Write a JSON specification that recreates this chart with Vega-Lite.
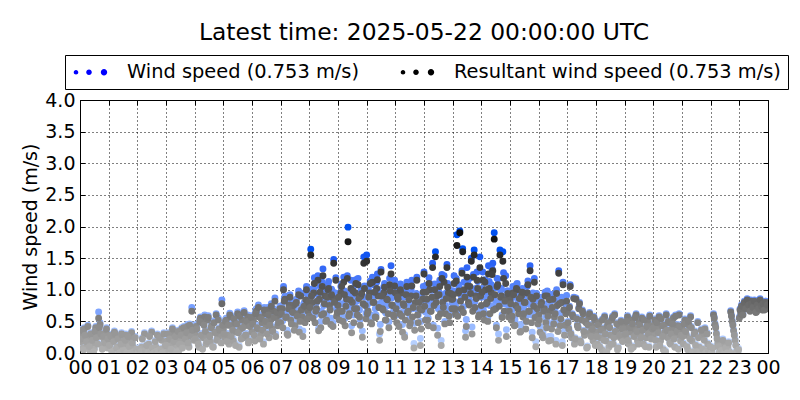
{
"$schema": "https://vega.github.io/schema/vega-lite/v6.json",
"width": 688, "height": 253,
"autosize": "none",
"padding": {"left": 80, "top": 100, "right": 32, "bottom": 47},
"background": "white",
"title": {"text": "Latest time: 2025-05-22 00:00:00 UTC", "font": "DejaVu Sans", "fontSize": 23.4, "fontWeight": "normal", "color": "black", "anchor": "middle", "frame": "group", "offset": -9, "baseline": "alphabetic"},
"config": {
 "view": {"stroke": "black", "strokeWidth": 1},
 "axis": {"labelFont": "DejaVu Sans", "labelFontSize": 19, "labelColor": "black", "titleFont": "DejaVu Sans", "titleFontSize": 19, "titleFontWeight": "normal", "titleColor": "black", "tickColor": "black", "gridColor": "black", "gridDash": [1, 3], "gridOpacity": 1, "gridWidth": 1, "domain": false}
},
"data": {"values": [
{"t":0,"w":0.32,"r":0.30},{"t":0.05,"w":0.20,"r":0.18},{"t":0.1,"w":0.10,"r":0.08},{"t":0.15,"w":0.40,"r":0.38},{"t":0.2,"w":0.27,"r":0.25},{"t":0.25,"w":0.14,"r":0.12},{"t":0.3,"w":0.24,"r":0.22},{"t":0.35,"w":0.05,"r":0.03},{"t":0.4,"w":0.30,"r":0.28},{"t":0.45,"w":0.17,"r":0.15},{"t":0.5,"w":0.08,"r":0.06},{"t":0.55,"w":0.42,"r":0.40},{"t":0.6,"w":0.35,"r":0.32},{"t":0.65,"w":0.65,"r":0.55},{"t":0.7,"w":0.48,"r":0.45},{"t":0.75,"w":0.28,"r":0.26},{"t":0.8,"w":0.14,"r":0.12},{"t":0.85,"w":0.22,"r":0.20},{"t":0.9,"w":0.35,"r":0.33},{"t":0.95,"w":0.10,"r":0.08},
{"t":1,"w":0.30,"r":0.28},{"t":1.05,"w":0.16,"r":0.14},{"t":1.1,"w":0.06,"r":0.04},{"t":1.15,"w":0.22,"r":0.20},{"t":1.2,"w":0.35,"r":0.33},{"t":1.25,"w":0.26,"r":0.24},{"t":1.3,"w":0.11,"r":0.09},{"t":1.35,"w":0.01,"r":0.00},{"t":1.4,"w":0.05,"r":0.04},{"t":1.45,"w":0.32,"r":0.30},{"t":1.5,"w":0.20,"r":0.18},{"t":1.55,"w":0.10,"r":0.08},{"t":1.6,"w":0.30,"r":0.28},{"t":1.65,"w":0.16,"r":0.14},{"t":1.7,"w":0.04,"r":0.03},{"t":1.75,"w":0.26,"r":0.24},{"t":1.8,"w":0.34,"r":0.32},{"t":1.85,"w":0.11,"r":0.09},{"t":1.9,"w":0.02,"r":0.01},{"t":1.95,"w":0.01,"r":0.00},
{"t":2,"w":0.02,"r":0.01},{"t":2.05,"w":0.01,"r":0.00},{"t":2.1,"w":0.05,"r":0.04},{"t":2.15,"w":0.11,"r":0.09},{"t":2.2,"w":0.01,"r":0.00},{"t":2.25,"w":0.32,"r":0.30},{"t":2.3,"w":0.03,"r":0.02},{"t":2.35,"w":0.01,"r":0.00},{"t":2.4,"w":0.16,"r":0.14},{"t":2.45,"w":0.05,"r":0.04},{"t":2.5,"w":0.35,"r":0.33},{"t":2.55,"w":0.01,"r":0.00},{"t":2.6,"w":0.03,"r":0.02},{"t":2.65,"w":0.11,"r":0.09},{"t":2.7,"w":0.30,"r":0.28},{"t":2.75,"w":0.05,"r":0.04},{"t":2.8,"w":0.01,"r":0.00},{"t":2.85,"w":0.22,"r":0.20},{"t":2.9,"w":0.03,"r":0.02},{"t":2.95,"w":0.10,"r":0.08},
{"t":3,"w":0.05,"r":0.04},{"t":3.05,"w":0.21,"r":0.19},{"t":3.1,"w":0.11,"r":0.09},{"t":3.15,"w":0.31,"r":0.29},{"t":3.2,"w":0.01,"r":0.00},{"t":3.25,"w":0.16,"r":0.14},{"t":3.3,"w":0.35,"r":0.33},{"t":3.35,"w":0.26,"r":0.24},{"t":3.4,"w":0.11,"r":0.09},{"t":3.45,"w":0.05,"r":0.04},{"t":3.5,"w":0.21,"r":0.19},{"t":3.55,"w":0.40,"r":0.38},{"t":3.6,"w":0.31,"r":0.29},{"t":3.65,"w":0.16,"r":0.14},{"t":3.7,"w":0.26,"r":0.24},{"t":3.75,"w":0.45,"r":0.42},{"t":3.8,"w":0.11,"r":0.09},{"t":3.85,"w":0.35,"r":0.33},{"t":3.9,"w":0.72,"r":0.66},{"t":3.95,"w":0.31,"r":0.29},
{"t":4,"w":0.32,"r":0.30},{"t":4.05,"w":0.45,"r":0.42},{"t":4.1,"w":0.20,"r":0.18},{"t":4.15,"w":0.11,"r":0.09},{"t":4.2,"w":0.57,"r":0.55},{"t":4.25,"w":0.50,"r":0.48},{"t":4.3,"w":0.26,"r":0.24},{"t":4.35,"w":0.60,"r":0.57},{"t":4.4,"w":0.16,"r":0.14},{"t":4.45,"w":0.55,"r":0.52},{"t":4.5,"w":0.30,"r":0.28},{"t":4.55,"w":0.20,"r":0.18},{"t":4.6,"w":0.46,"r":0.43},{"t":4.65,"w":0.11,"r":0.09},{"t":4.7,"w":0.35,"r":0.33},{"t":4.75,"w":0.62,"r":0.60},{"t":4.8,"w":0.26,"r":0.24},{"t":4.85,"w":0.40,"r":0.38},{"t":4.9,"w":0.30,"r":0.28},{"t":4.95,"w":0.84,"r":0.78},
{"t":5,"w":0.41,"r":0.38},{"t":5.05,"w":0.27,"r":0.24},{"t":5.1,"w":0.55,"r":0.52},{"t":5.15,"w":0.31,"r":0.28},{"t":5.2,"w":0.17,"r":0.14},{"t":5.25,"w":0.60,"r":0.57},{"t":5.3,"w":0.46,"r":0.43},{"t":5.35,"w":0.22,"r":0.19},{"t":5.4,"w":0.51,"r":0.48},{"t":5.45,"w":0.36,"r":0.33},{"t":5.5,"w":0.65,"r":0.62},{"t":5.55,"w":0.12,"r":0.09},{"t":5.6,"w":0.41,"r":0.38},{"t":5.65,"w":0.55,"r":0.52},{"t":5.7,"w":0.27,"r":0.24},{"t":5.75,"w":0.46,"r":0.43},{"t":5.8,"w":0.31,"r":0.28},{"t":5.85,"w":0.60,"r":0.57},{"t":5.9,"w":0.22,"r":0.19},{"t":5.95,"w":0.48,"r":0.45},
{"t":6,"w":0.37,"r":0.33},{"t":6.05,"w":0.56,"r":0.52},{"t":6.1,"w":0.23,"r":0.19},{"t":6.15,"w":0.70,"r":0.66},{"t":6.2,"w":0.42,"r":0.38},{"t":6.25,"w":0.61,"r":0.57},{"t":6.3,"w":0.32,"r":0.28},{"t":6.35,"w":0.52,"r":0.48},{"t":6.4,"w":0.18,"r":0.14},{"t":6.45,"w":0.66,"r":0.62},{"t":6.5,"w":0.47,"r":0.43},{"t":6.55,"w":0.72,"r":0.68},{"t":6.6,"w":0.28,"r":0.24},{"t":6.65,"w":0.56,"r":0.52},{"t":6.7,"w":0.42,"r":0.38},{"t":6.75,"w":0.70,"r":0.66},{"t":6.8,"w":0.87,"r":0.82},{"t":6.85,"w":0.61,"r":0.57},{"t":6.9,"w":0.47,"r":0.43},{"t":6.95,"w":0.64,"r":0.60},
{"t":7,"w":0.53,"r":0.48},{"t":7.05,"w":0.75,"r":0.70},{"t":7.1,"w":1.05,"r":1.00},{"t":7.15,"w":0.90,"r":0.85},{"t":7.2,"w":0.62,"r":0.57},{"t":7.25,"w":0.33,"r":0.28},{"t":7.3,"w":0.81,"r":0.76},{"t":7.35,"w":0.57,"r":0.52},{"t":7.4,"w":0.71,"r":0.66},{"t":7.45,"w":0.80,"r":0.75},{"t":7.5,"w":0.48,"r":0.43},{"t":7.55,"w":0.85,"r":0.80},{"t":7.6,"w":0.67,"r":0.62},{"t":7.65,"w":0.38,"r":0.33},{"t":7.7,"w":0.95,"r":0.90},{"t":7.75,"w":0.62,"r":0.57},{"t":7.8,"w":0.77,"r":0.72},{"t":7.85,"w":0.53,"r":0.48},{"t":7.9,"w":1.05,"r":1.00},{"t":7.95,"w":0.71,"r":0.66},
{"t":8,"w":0.65,"r":0.58},{"t":8.05,"w":1.64,"r":1.55},{"t":8.1,"w":0.90,"r":0.80},{"t":8.15,"w":1.02,"r":0.95},{"t":8.2,"w":0.60,"r":0.48},{"t":8.25,"w":0.80,"r":0.70},{"t":8.3,"w":1.22,"r":1.15},{"t":8.35,"w":0.95,"r":0.85},{"t":8.4,"w":0.50,"r":0.40},{"t":8.45,"w":1.12,"r":1.05},{"t":8.5,"w":0.75,"r":0.62},{"t":8.55,"w":0.98,"r":0.90},{"t":8.6,"w":0.62,"r":0.52},{"t":8.65,"w":1.08,"r":1.00},{"t":8.7,"w":0.85,"r":0.75},{"t":8.75,"w":0.55,"r":0.45},{"t":8.8,"w":0.98,"r":0.88},{"t":8.85,"w":1.48,"r":1.42},{"t":8.9,"w":0.95,"r":0.85},{"t":8.95,"w":0.70,"r":0.58},
{"t":9,"w":0.85,"r":0.75},{"t":9.05,"w":0.62,"r":0.52},{"t":9.1,"w":1.05,"r":0.95},{"t":9.15,"w":0.78,"r":0.66},{"t":9.2,"w":1.20,"r":1.12},{"t":9.25,"w":0.55,"r":0.43},{"t":9.3,"w":0.95,"r":0.85},{"t":9.35,"w":1.99,"r":1.76},{"t":9.4,"w":0.75,"r":0.62},{"t":9.45,"w":1.15,"r":1.02},{"t":9.5,"w":0.90,"r":0.80},{"t":9.55,"w":0.60,"r":0.48},{"t":9.6,"w":1.08,"r":0.95},{"t":9.65,"w":0.82,"r":0.70},{"t":9.7,"w":1.18,"r":1.08},{"t":9.75,"w":0.68,"r":0.57},{"t":9.8,"w":1.00,"r":0.90},{"t":9.85,"w":0.35,"r":0.25},{"t":9.9,"w":1.52,"r":1.42},{"t":9.95,"w":0.88,"r":0.75},
{"t":10,"w":1.55,"r":1.45},{"t":10.05,"w":0.78,"r":0.66},{"t":10.1,"w":1.08,"r":0.95},{"t":10.15,"w":0.60,"r":0.48},{"t":10.2,"w":1.20,"r":1.12},{"t":10.25,"w":0.92,"r":0.80},{"t":10.3,"w":0.70,"r":0.57},{"t":10.35,"w":1.12,"r":1.02},{"t":10.4,"w":1.00,"r":0.90},{"t":10.45,"w":0.30,"r":0.20},{"t":10.5,"w":1.32,"r":1.28},{"t":10.55,"w":0.82,"r":0.70},{"t":10.6,"w":1.05,"r":0.95},{"t":10.65,"w":0.65,"r":0.52},{"t":10.7,"w":0.95,"r":0.85},{"t":10.75,"w":0.75,"r":0.62},{"t":10.8,"w":1.18,"r":1.08},{"t":10.85,"w":1.38,"r":1.25},{"t":10.9,"w":0.88,"r":0.75},{"t":10.95,"w":0.68,"r":0.57},
{"t":11,"w":1.05,"r":0.95},{"t":11.05,"w":0.60,"r":0.48},{"t":11.1,"w":0.95,"r":0.85},{"t":11.15,"w":0.75,"r":0.62},{"t":11.2,"w":1.05,"r":0.95},{"t":11.25,"w":0.45,"r":0.33},{"t":11.3,"w":0.88,"r":0.75},{"t":11.35,"w":0.65,"r":0.52},{"t":11.4,"w":1.12,"r":1.05},{"t":11.45,"w":0.78,"r":0.66},{"t":11.5,"w":0.55,"r":0.43},{"t":11.55,"w":1.00,"r":0.90},{"t":11.6,"w":0.70,"r":0.57},{"t":11.65,"w":0.15,"r":0.08},{"t":11.7,"w":0.92,"r":0.80},{"t":11.75,"w":1.20,"r":1.15},{"t":11.8,"w":0.60,"r":0.48},{"t":11.85,"w":0.82,"r":0.70},{"t":11.9,"w":0.50,"r":0.38},{"t":11.95,"w":0.95,"r":0.85},
{"t":12,"w":1.28,"r":1.25},{"t":12.05,"w":0.65,"r":0.52},{"t":12.1,"w":0.98,"r":0.85},{"t":12.15,"w":0.55,"r":0.43},{"t":12.2,"w":1.10,"r":1.00},{"t":12.25,"w":0.80,"r":0.66},{"t":12.3,"w":1.42,"r":1.35},{"t":12.35,"w":0.88,"r":0.75},{"t":12.4,"w":1.60,"r":1.52},{"t":12.45,"w":1.00,"r":0.90},{"t":12.5,"w":0.70,"r":0.57},{"t":12.55,"w":1.15,"r":1.05},{"t":12.6,"w":0.20,"r":0.12},{"t":12.65,"w":0.92,"r":0.80},{"t":12.7,"w":1.22,"r":1.12},{"t":12.75,"w":0.75,"r":0.62},{"t":12.8,"w":1.40,"r":1.35},{"t":12.85,"w":1.05,"r":0.95},{"t":12.9,"w":0.60,"r":0.48},{"t":12.95,"w":0.98,"r":0.85},
{"t":13,"w":0.98,"r":0.85},{"t":13.05,"w":1.22,"r":1.10},{"t":13.1,"w":0.75,"r":0.62},{"t":13.15,"w":1.87,"r":1.70},{"t":13.2,"w":1.08,"r":0.95},{"t":13.25,"w":1.93,"r":1.90},{"t":13.3,"w":0.85,"r":0.70},{"t":13.35,"w":1.65,"r":1.60},{"t":13.4,"w":1.12,"r":1.00},{"t":13.45,"w":0.35,"r":0.25},{"t":13.5,"w":1.35,"r":1.20},{"t":13.55,"w":0.92,"r":0.80},{"t":13.6,"w":1.18,"r":1.05},{"t":13.65,"w":1.50,"r":1.45},{"t":13.7,"w":0.80,"r":0.66},{"t":13.75,"w":1.63,"r":1.55},{"t":13.8,"w":1.02,"r":0.90},{"t":13.85,"w":1.28,"r":1.15},{"t":13.9,"w":0.70,"r":0.57},{"t":13.95,"w":1.52,"r":1.35},
{"t":14,"w":0.88,"r":0.75},{"t":14.05,"w":1.28,"r":1.15},{"t":14.1,"w":0.65,"r":0.52},{"t":14.15,"w":1.12,"r":1.00},{"t":14.2,"w":0.92,"r":0.80},{"t":14.25,"w":1.38,"r":1.25},{"t":14.3,"w":0.75,"r":0.62},{"t":14.35,"w":1.08,"r":0.95},{"t":14.4,"w":1.42,"r":1.30},{"t":14.45,"w":1.90,"r":1.80},{"t":14.5,"w":0.82,"r":0.70},{"t":14.55,"w":1.18,"r":1.05},{"t":14.6,"w":0.30,"r":0.20},{"t":14.65,"w":1.63,"r":1.55},{"t":14.7,"w":1.02,"r":0.90},{"t":14.75,"w":1.60,"r":1.45},{"t":14.8,"w":0.78,"r":0.66},{"t":14.85,"w":1.22,"r":1.10},{"t":14.9,"w":0.98,"r":0.85},{"t":14.95,"w":0.70,"r":0.57},
{"t":15,"w":0.95,"r":0.85},{"t":15.05,"w":0.65,"r":0.52},{"t":15.1,"w":1.05,"r":0.95},{"t":15.15,"w":0.55,"r":0.43},{"t":15.2,"w":0.88,"r":0.75},{"t":15.25,"w":1.10,"r":1.00},{"t":15.3,"w":0.75,"r":0.62},{"t":15.35,"w":0.45,"r":0.33},{"t":15.4,"w":1.00,"r":0.90},{"t":15.45,"w":0.70,"r":0.57},{"t":15.5,"w":0.92,"r":0.80},{"t":15.55,"w":0.50,"r":0.38},{"t":15.6,"w":1.05,"r":0.95},{"t":15.65,"w":0.78,"r":0.66},{"t":15.7,"w":1.38,"r":1.30},{"t":15.75,"w":0.60,"r":0.48},{"t":15.8,"w":0.95,"r":0.85},{"t":15.85,"w":1.18,"r":1.12},{"t":15.9,"w":0.18,"r":0.10},{"t":15.95,"w":0.82,"r":0.70},
{"t":16,"w":0.68,"r":0.60},{"t":16.05,"w":0.42,"r":0.33},{"t":16.1,"w":0.88,"r":0.80},{"t":16.15,"w":0.32,"r":0.24},{"t":16.2,"w":0.78,"r":0.70},{"t":16.25,"w":0.56,"r":0.48},{"t":16.3,"w":0.98,"r":0.90},{"t":16.35,"w":0.26,"r":0.19},{"t":16.4,"w":0.74,"r":0.66},{"t":16.45,"w":0.46,"r":0.38},{"t":16.5,"w":0.93,"r":0.85},{"t":16.55,"w":0.65,"r":0.57},{"t":16.6,"w":0.20,"r":0.14},{"t":16.65,"w":0.83,"r":0.75},{"t":16.7,"w":1.30,"r":1.26},{"t":16.75,"w":0.50,"r":0.43},{"t":16.8,"w":0.88,"r":0.80},{"t":16.85,"w":1.12,"r":1.08},{"t":16.9,"w":0.35,"r":0.28},{"t":16.95,"w":0.70,"r":0.62},
{"t":17,"w":0.68,"r":0.66},{"t":17.05,"w":0.40,"r":0.38},{"t":17.1,"w":1.08,"r":1.05},{"t":17.15,"w":0.26,"r":0.24},{"t":17.2,"w":0.59,"r":0.57},{"t":17.25,"w":0.16,"r":0.14},{"t":17.3,"w":0.87,"r":0.85},{"t":17.35,"w":0.45,"r":0.43},{"t":17.4,"w":0.72,"r":0.70},{"t":17.45,"w":0.21,"r":0.19},{"t":17.5,"w":0.54,"r":0.52},{"t":17.55,"w":0.64,"r":0.62},{"t":17.6,"w":0.30,"r":0.28},{"t":17.65,"w":0.50,"r":0.48},{"t":17.7,"w":0.11,"r":0.09},{"t":17.75,"w":0.59,"r":0.57},{"t":17.8,"w":0.35,"r":0.33},{"t":17.85,"w":0.45,"r":0.43},{"t":17.9,"w":0.21,"r":0.19},{"t":17.95,"w":0.54,"r":0.52},
{"t":18,"w":0.35,"r":0.33},{"t":18.05,"w":0.16,"r":0.14},{"t":18.1,"w":0.50,"r":0.48},{"t":18.15,"w":0.26,"r":0.24},{"t":18.2,"w":0.07,"r":0.05},{"t":18.25,"w":0.40,"r":0.38},{"t":18.3,"w":0.59,"r":0.57},{"t":18.35,"w":0.21,"r":0.19},{"t":18.4,"w":0.45,"r":0.43},{"t":18.45,"w":0.11,"r":0.09},{"t":18.5,"w":0.30,"r":0.28},{"t":18.55,"w":0.54,"r":0.52},{"t":18.6,"w":0.16,"r":0.14},{"t":18.65,"w":0.62,"r":0.60},{"t":18.7,"w":0.35,"r":0.33},{"t":18.75,"w":0.07,"r":0.05},{"t":18.8,"w":0.45,"r":0.43},{"t":18.85,"w":0.26,"r":0.24},{"t":18.9,"w":0.40,"r":0.38},{"t":18.95,"w":0.21,"r":0.19},
{"t":19,"w":0.45,"r":0.43},{"t":19.05,"w":0.26,"r":0.24},{"t":19.1,"w":0.59,"r":0.57},{"t":19.15,"w":0.16,"r":0.14},{"t":19.2,"w":0.35,"r":0.33},{"t":19.25,"w":0.54,"r":0.52},{"t":19.3,"w":0.11,"r":0.09},{"t":19.35,"w":0.40,"r":0.38},{"t":19.4,"w":0.62,"r":0.60},{"t":19.45,"w":0.21,"r":0.19},{"t":19.5,"w":0.50,"r":0.48},{"t":19.55,"w":0.30,"r":0.28},{"t":19.6,"w":0.57,"r":0.55},{"t":19.65,"w":0.16,"r":0.14},{"t":19.7,"w":0.40,"r":0.38},{"t":19.75,"w":0.26,"r":0.24},{"t":19.8,"w":0.52,"r":0.50},{"t":19.85,"w":0.11,"r":0.09},{"t":19.9,"w":0.35,"r":0.33},{"t":19.95,"w":0.45,"r":0.43},
{"t":20,"w":0.30,"r":0.28},{"t":20.05,"w":0.54,"r":0.52},{"t":20.1,"w":0.11,"r":0.09},{"t":20.15,"w":0.40,"r":0.38},{"t":20.2,"w":0.59,"r":0.57},{"t":20.25,"w":0.21,"r":0.19},{"t":20.3,"w":0.45,"r":0.43},{"t":20.35,"w":0.07,"r":0.05},{"t":20.4,"w":0.35,"r":0.33},{"t":20.45,"w":0.62,"r":0.60},{"t":20.5,"w":0.26,"r":0.24},{"t":20.55,"w":0.50,"r":0.48},{"t":20.6,"w":0.16,"r":0.14},{"t":20.65,"w":0.40,"r":0.38},{"t":20.7,"w":0.57,"r":0.55},{"t":20.75,"w":0.11,"r":0.09},{"t":20.8,"w":0.30,"r":0.28},{"t":20.85,"w":0.45,"r":0.43},{"t":20.9,"w":0.62,"r":0.60},{"t":20.95,"w":0.21,"r":0.19},
{"t":21,"w":0.40,"r":0.38},{"t":21.05,"w":0.16,"r":0.14},{"t":21.1,"w":0.54,"r":0.52},{"t":21.15,"w":0.30,"r":0.28},{"t":21.2,"w":0.07,"r":0.05},{"t":21.25,"w":0.45,"r":0.43},{"t":21.3,"w":0.59,"r":0.57},{"t":21.35,"w":0.21,"r":0.19},{"t":21.4,"w":0.04,"r":0.02},{"t":21.45,"w":0.35,"r":0.33},{"t":21.5,"w":0.02,"r":0.00},{"t":21.55,"w":0.50,"r":0.48},{"t":21.6,"w":0.11,"r":0.09},{"t":21.65,"w":0.03,"r":0.01},{"t":21.7,"w":0.30,"r":0.28},{"t":21.75,"w":0.02,"r":0.00},{"t":21.8,"w":0.40,"r":0.38},{"t":21.85,"w":0.04,"r":0.02},{"t":21.9,"w":0.16,"r":0.14},{"t":21.95,"w":0.02,"r":0.00},
{"t":22,"w":0.04,"r":0.02},{"t":22.05,"w":0.02,"r":0.00},{"t":22.1,"w":0.62,"r":0.60},{"t":22.15,"w":0.47,"r":0.45},{"t":22.2,"w":0.32,"r":0.30},{"t":22.25,"w":0.17,"r":0.15},{"t":22.3,"w":0.03,"r":0.01},{"t":22.35,"w":0.02,"r":0.00},{"t":22.4,"w":0.14,"r":0.12},{"t":22.45,"w":0.02,"r":0.00},{"t":22.5,"w":0.17,"r":0.15},{"t":22.55,"w":0.05,"r":0.03},{"t":22.6,"w":0.12,"r":0.10},{"t":22.65,"w":0.04,"r":0.02},{"t":22.7,"w":0.67,"r":0.65},{"t":22.75,"w":0.52,"r":0.50},{"t":22.8,"w":0.37,"r":0.35},{"t":22.85,"w":0.22,"r":0.20},{"t":22.9,"w":0.04,"r":0.02},{"t":22.95,"w":0.02,"r":0.00},
{"t":23,"w":0.57,"r":0.55},{"t":23.05,"w":0.64,"r":0.62},{"t":23.1,"w":0.72,"r":0.70},{"t":23.15,"w":0.77,"r":0.75},{"t":23.2,"w":0.80,"r":0.78},{"t":23.25,"w":0.74,"r":0.72},{"t":23.3,"w":0.82,"r":0.80},{"t":23.35,"w":0.70,"r":0.68},{"t":23.4,"w":0.84,"r":0.82},{"t":23.45,"w":0.77,"r":0.75},{"t":23.5,"w":0.72,"r":0.70},{"t":23.55,"w":0.80,"r":0.78},{"t":23.6,"w":0.67,"r":0.65},{"t":23.65,"w":0.82,"r":0.80},{"t":23.7,"w":0.74,"r":0.72},{"t":23.75,"w":0.78,"r":0.76},{"t":23.8,"w":0.70,"r":0.68},{"t":23.85,"w":0.76,"r":0.74},{"t":23.9,"w":0.82,"r":0.80},{"t":23.95,"w":0.72,"r":0.70},
{"t":0.025,"w":0.24,"r":0.22},{"t":0.075,"w":0.38,"r":0.36},{"t":0.125,"w":0.07,"r":0.05},{"t":0.175,"w":0.30,"r":0.28},{"t":0.225,"w":0.20,"r":0.18},{"t":0.275,"w":0.44,"r":0.42},{"t":0.325,"w":0.12,"r":0.10},{"t":0.375,"w":0.32,"r":0.30},{"t":0.425,"w":0.22,"r":0.20},{"t":0.475,"w":0.04,"r":0.02},{"t":0.525,"w":0.36,"r":0.34},{"t":0.575,"w":0.26,"r":0.24},{"t":0.625,"w":0.16,"r":0.14},{"t":0.675,"w":0.42,"r":0.40},{"t":0.725,"w":0.32,"r":0.30},{"t":0.775,"w":0.08,"r":0.06},{"t":0.825,"w":0.28,"r":0.26},{"t":0.875,"w":0.18,"r":0.16},{"t":0.925,"w":0.40,"r":0.38},{"t":0.975,"w":0.24,"r":0.22},
{"t":1.025,"w":0.14,"r":0.12},{"t":1.075,"w":0.28,"r":0.26},{"t":1.125,"w":0.04,"r":0.02},{"t":1.175,"w":0.20,"r":0.18},{"t":1.225,"w":0.32,"r":0.30},{"t":1.275,"w":0.10,"r":0.08},{"t":1.325,"w":0.24,"r":0.22},{"t":1.375,"w":0.01,"r":0.00},{"t":1.425,"w":0.16,"r":0.14},{"t":1.475,"w":0.30,"r":0.28},{"t":1.525,"w":0.06,"r":0.04},{"t":1.575,"w":0.22,"r":0.20},{"t":1.625,"w":0.01,"r":0.00},{"t":1.675,"w":0.28,"r":0.26},{"t":1.725,"w":0.12,"r":0.10},{"t":1.775,"w":0.01,"r":0.00},{"t":1.825,"w":0.18,"r":0.16},{"t":1.875,"w":0.04,"r":0.02},{"t":1.925,"w":0.26,"r":0.24},{"t":1.975,"w":0.08,"r":0.06},
{"t":2.025,"w":0.01,"r":0.00},{"t":2.075,"w":0.08,"r":0.06},{"t":2.125,"w":0.04,"r":0.02},{"t":2.175,"w":0.24,"r":0.22},{"t":2.225,"w":0.01,"r":0.00},{"t":2.275,"w":0.06,"r":0.04},{"t":2.325,"w":0.14,"r":0.12},{"t":2.375,"w":0.01,"r":0.00},{"t":2.425,"w":0.28,"r":0.26},{"t":2.475,"w":0.04,"r":0.02},{"t":2.525,"w":0.10,"r":0.08},{"t":2.575,"w":0.01,"r":0.00},{"t":2.625,"w":0.20,"r":0.18},{"t":2.675,"w":0.05,"r":0.03},{"t":2.725,"w":0.01,"r":0.00},{"t":2.775,"w":0.26,"r":0.24},{"t":2.825,"w":0.08,"r":0.06},{"t":2.875,"w":0.01,"r":0.00},{"t":2.925,"w":0.32,"r":0.30},{"t":2.975,"w":0.14,"r":0.12},
{"t":3.025,"w":0.14,"r":0.12},{"t":3.075,"w":0.32,"r":0.30},{"t":3.125,"w":0.24,"r":0.22},{"t":3.175,"w":0.08,"r":0.06},{"t":3.225,"w":0.40,"r":0.38},{"t":3.275,"w":0.20,"r":0.18},{"t":3.325,"w":0.28,"r":0.26},{"t":3.375,"w":0.04,"r":0.02},{"t":3.425,"w":0.36,"r":0.34},{"t":3.475,"w":0.16,"r":0.14},{"t":3.525,"w":0.30,"r":0.28},{"t":3.575,"w":0.10,"r":0.08},{"t":3.625,"w":0.42,"r":0.40},{"t":3.675,"w":0.24,"r":0.22},{"t":3.725,"w":0.34,"r":0.32},{"t":3.775,"w":0.18,"r":0.16},{"t":3.825,"w":0.46,"r":0.44},{"t":3.875,"w":0.28,"r":0.26},{"t":3.925,"w":0.38,"r":0.36},{"t":3.975,"w":0.22,"r":0.20},
{"t":4.025,"w":0.25,"r":0.22},{"t":4.075,"w":0.41,"r":0.38},{"t":4.125,"w":0.17,"r":0.14},{"t":4.175,"w":0.53,"r":0.50},{"t":4.225,"w":0.31,"r":0.28},{"t":4.275,"w":0.09,"r":0.06},{"t":4.325,"w":0.47,"r":0.44},{"t":4.375,"w":0.37,"r":0.34},{"t":4.425,"w":0.21,"r":0.18},{"t":4.475,"w":0.59,"r":0.56},{"t":4.525,"w":0.29,"r":0.26},{"t":4.575,"w":0.43,"r":0.40},{"t":4.625,"w":0.13,"r":0.10},{"t":4.675,"w":0.51,"r":0.48},{"t":4.725,"w":0.35,"r":0.32},{"t":4.775,"w":0.23,"r":0.20},{"t":4.825,"w":0.55,"r":0.52},{"t":4.875,"w":0.39,"r":0.36},{"t":4.925,"w":0.19,"r":0.16},{"t":4.975,"w":0.47,"r":0.44},
{"t":5.025,"w":0.33,"r":0.30},{"t":5.075,"w":0.53,"r":0.50},{"t":5.125,"w":0.21,"r":0.18},{"t":5.175,"w":0.47,"r":0.44},{"t":5.225,"w":0.63,"r":0.60},{"t":5.275,"w":0.29,"r":0.26},{"t":5.325,"w":0.39,"r":0.36},{"t":5.375,"w":0.57,"r":0.54},{"t":5.425,"w":0.15,"r":0.12},{"t":5.475,"w":0.49,"r":0.46},{"t":5.525,"w":0.35,"r":0.32},{"t":5.575,"w":0.61,"r":0.58},{"t":5.625,"w":0.25,"r":0.22},{"t":5.675,"w":0.43,"r":0.40},{"t":5.725,"w":0.67,"r":0.64},{"t":5.775,"w":0.31,"r":0.28},{"t":5.825,"w":0.53,"r":0.50},{"t":5.875,"w":0.19,"r":0.16},{"t":5.925,"w":0.45,"r":0.42},{"t":5.975,"w":0.59,"r":0.56},
{"t":6.025,"w":0.50,"r":0.46},{"t":6.075,"w":0.32,"r":0.28},{"t":6.125,"w":0.66,"r":0.62},{"t":6.175,"w":0.44,"r":0.40},{"t":6.225,"w":0.76,"r":0.72},{"t":6.275,"w":0.26,"r":0.22},{"t":6.325,"w":0.58,"r":0.54},{"t":6.375,"w":0.40,"r":0.36},{"t":6.425,"w":0.72,"r":0.68},{"t":6.475,"w":0.54,"r":0.50},{"t":6.525,"w":0.34,"r":0.30},{"t":6.575,"w":0.64,"r":0.60},{"t":6.625,"w":0.48,"r":0.44},{"t":6.675,"w":0.78,"r":0.74},{"t":6.725,"w":0.38,"r":0.34},{"t":6.775,"w":0.60,"r":0.56},{"t":6.825,"w":0.30,"r":0.26},{"t":6.875,"w":0.68,"r":0.64},{"t":6.925,"w":0.52,"r":0.48},{"t":6.975,"w":0.74,"r":0.70},
{"t":7.025,"w":0.68,"r":0.62},{"t":7.075,"w":0.51,"r":0.40},{"t":7.125,"w":0.86,"r":0.82},{"t":7.175,"w":0.65,"r":0.56},{"t":7.225,"w":0.36,"r":0.30},{"t":7.275,"w":0.81,"r":0.70},{"t":7.325,"w":0.92,"r":0.88},{"t":7.375,"w":0.55,"r":0.46},{"t":7.425,"w":0.70,"r":0.64},{"t":7.475,"w":0.47,"r":0.36},{"t":7.525,"w":0.82,"r":0.78},{"t":7.575,"w":0.67,"r":0.58},{"t":7.625,"w":0.98,"r":0.92},{"t":7.675,"w":0.61,"r":0.50},{"t":7.725,"w":0.72,"r":0.68},{"t":7.775,"w":0.35,"r":0.26},{"t":7.825,"w":0.80,"r":0.74},{"t":7.875,"w":0.95,"r":0.84},{"t":7.925,"w":0.58,"r":0.54},{"t":7.975,"w":0.89,"r":0.80},
{"t":8.025,"w":0.78,"r":0.72},{"t":8.075,"w":1.01,"r":0.90},{"t":8.125,"w":0.59,"r":0.55},{"t":8.175,"w":1.19,"r":1.10},{"t":8.225,"w":0.72,"r":0.66},{"t":8.275,"w":0.93,"r":0.82},{"t":8.325,"w":0.39,"r":0.35},{"t":8.375,"w":1.05,"r":0.96},{"t":8.425,"w":0.66,"r":0.60},{"t":8.475,"w":1.33,"r":1.22},{"t":8.525,"w":0.82,"r":0.78},{"t":8.575,"w":0.59,"r":0.50},{"t":8.625,"w":0.94,"r":0.88},{"t":8.675,"w":1.13,"r":1.02},{"t":8.725,"w":0.72,"r":0.68},{"t":8.775,"w":1.01,"r":0.92},{"t":8.825,"w":0.48,"r":0.42},{"t":8.875,"w":0.91,"r":0.80},{"t":8.925,"w":1.19,"r":1.15},{"t":8.975,"w":0.73,"r":0.64},
{"t":9.025,"w":0.94,"r":0.88},{"t":9.075,"w":0.77,"r":0.66},{"t":9.125,"w":1.09,"r":1.05},{"t":9.175,"w":0.59,"r":0.50},{"t":9.225,"w":0.98,"r":0.92},{"t":9.275,"w":0.85,"r":0.74},{"t":9.325,"w":1.22,"r":1.18},{"t":9.375,"w":0.67,"r":0.58},{"t":9.425,"w":0.90,"r":0.84},{"t":9.475,"w":0.43,"r":0.32},{"t":9.525,"w":1.02,"r":0.98},{"t":9.575,"w":0.79,"r":0.70},{"t":9.625,"w":1.16,"r":1.10},{"t":9.675,"w":0.71,"r":0.60},{"t":9.725,"w":0.90,"r":0.86},{"t":9.775,"w":0.53,"r":0.44},{"t":9.825,"w":1.00,"r":0.94},{"t":9.875,"w":0.89,"r":0.78},{"t":9.925,"w":1.06,"r":1.02},{"t":9.975,"w":0.63,"r":0.54},
{"t":10.025,"w":0.68,"r":0.62},{"t":10.075,"w":0.99,"r":0.88},{"t":10.125,"w":1.14,"r":1.10},{"t":10.175,"w":0.55,"r":0.46},{"t":10.225,"w":0.86,"r":0.80},{"t":10.275,"w":1.07,"r":0.96},{"t":10.325,"w":0.60,"r":0.56},{"t":10.375,"w":1.25,"r":1.16},{"t":10.425,"w":0.78,"r":0.72},{"t":10.475,"w":0.45,"r":0.34},{"t":10.525,"w":0.94,"r":0.90},{"t":10.575,"w":0.77,"r":0.68},{"t":10.625,"w":1.10,"r":1.04},{"t":10.675,"w":0.63,"r":0.52},{"t":10.725,"w":0.88,"r":0.84},{"t":10.775,"w":0.49,"r":0.40},{"t":10.825,"w":1.04,"r":0.98},{"t":10.875,"w":0.87,"r":0.76},{"t":10.925,"w":0.64,"r":0.60},{"t":10.975,"w":1.15,"r":1.06},
{"t":11.025,"w":0.76,"r":0.70},{"t":11.075,"w":0.99,"r":0.88},{"t":11.125,"w":0.46,"r":0.42},{"t":11.175,"w":1.09,"r":1.00},{"t":11.225,"w":0.64,"r":0.58},{"t":11.275,"w":0.89,"r":0.78},{"t":11.325,"w":0.29,"r":0.25},{"t":11.375,"w":1.01,"r":0.92},{"t":11.425,"w":0.70,"r":0.64},{"t":11.475,"w":0.95,"r":0.84},{"t":11.525,"w":0.52,"r":0.48},{"t":11.575,"w":1.15,"r":1.06},{"t":11.625,"w":0.78,"r":0.72},{"t":11.675,"w":0.47,"r":0.36},{"t":11.725,"w":0.94,"r":0.90},{"t":11.775,"w":0.69,"r":0.60},{"t":11.825,"w":0.86,"r":0.80},{"t":11.875,"w":0.23,"r":0.12},{"t":11.925,"w":0.72,"r":0.68},{"t":11.975,"w":1.05,"r":0.96},
{"t":12.025,"w":0.80,"r":0.74},{"t":12.075,"w":1.07,"r":0.96},{"t":12.125,"w":0.56,"r":0.52},{"t":12.175,"w":1.19,"r":1.10},{"t":12.225,"w":0.72,"r":0.66},{"t":12.275,"w":0.99,"r":0.88},{"t":12.325,"w":0.44,"r":0.40},{"t":12.375,"w":1.09,"r":1.00},{"t":12.425,"w":0.86,"r":0.80},{"t":12.475,"w":0.39,"r":0.28},{"t":12.525,"w":0.96,"r":0.92},{"t":12.575,"w":0.71,"r":0.62},{"t":12.625,"w":1.24,"r":1.18},{"t":12.675,"w":0.83,"r":0.72},{"t":12.725,"w":0.50,"r":0.46},{"t":12.775,"w":0.95,"r":0.86},{"t":12.825,"w":1.10,"r":1.04},{"t":12.875,"w":0.69,"r":0.58},{"t":12.925,"w":0.98,"r":0.94},{"t":12.975,"w":0.79,"r":0.70},
{"t":13.025,"w":0.98,"r":0.92},{"t":13.075,"w":0.81,"r":0.70},{"t":13.125,"w":1.18,"r":1.14},{"t":13.175,"w":0.67,"r":0.58},{"t":13.225,"w":1.04,"r":0.98},{"t":13.275,"w":0.93,"r":0.82},{"t":13.325,"w":1.30,"r":1.26},{"t":13.375,"w":0.73,"r":0.64},{"t":13.425,"w":0.94,"r":0.88},{"t":13.475,"w":0.53,"r":0.42},{"t":13.525,"w":1.10,"r":1.06},{"t":13.575,"w":0.85,"r":0.76},{"t":13.625,"w":1.00,"r":0.94},{"t":13.675,"w":0.41,"r":0.30},{"t":13.725,"w":1.24,"r":1.20},{"t":13.775,"w":0.81,"r":0.72},{"t":13.825,"w":0.92,"r":0.86},{"t":13.875,"w":1.13,"r":1.02},{"t":13.925,"w":0.64,"r":0.60},{"t":13.975,"w":0.99,"r":0.90},
{"t":14.025,"w":1.02,"r":0.96},{"t":14.075,"w":0.73,"r":0.62},{"t":14.125,"w":1.16,"r":1.12},{"t":14.175,"w":0.87,"r":0.78},{"t":14.225,"w":0.56,"r":0.50},{"t":14.275,"w":1.13,"r":1.02},{"t":14.325,"w":0.90,"r":0.86},{"t":14.375,"w":1.33,"r":1.24},{"t":14.425,"w":0.74,"r":0.68},{"t":14.475,"w":1.03,"r":0.92},{"t":14.525,"w":0.44,"r":0.40},{"t":14.575,"w":1.17,"r":1.08},{"t":14.625,"w":0.80,"r":0.74},{"t":14.675,"w":0.99,"r":0.88},{"t":14.725,"w":0.60,"r":0.56},{"t":14.775,"w":1.27,"r":1.18},{"t":14.825,"w":0.88,"r":0.82},{"t":14.875,"w":0.37,"r":0.26},{"t":14.925,"w":0.98,"r":0.94},{"t":14.975,"w":0.75,"r":0.66},
{"t":15.025,"w":0.84,"r":0.78},{"t":15.075,"w":0.69,"r":0.58},{"t":15.125,"w":0.96,"r":0.92},{"t":15.175,"w":0.53,"r":0.44},{"t":15.225,"w":1.08,"r":1.02},{"t":15.275,"w":0.81,"r":0.70},{"t":15.325,"w":0.90,"r":0.86},{"t":15.375,"w":0.43,"r":0.34},{"t":15.425,"w":1.02,"r":0.96},{"t":15.475,"w":0.73,"r":0.62},{"t":15.525,"w":0.84,"r":0.80},{"t":15.575,"w":0.59,"r":0.50},{"t":15.625,"w":1.14,"r":1.08},{"t":15.675,"w":0.77,"r":0.66},{"t":15.725,"w":0.92,"r":0.88},{"t":15.775,"w":0.33,"r":0.24},{"t":15.825,"w":0.80,"r":0.74},{"t":15.875,"w":0.67,"r":0.56},{"t":15.925,"w":0.94,"r":0.90},{"t":15.975,"w":0.55,"r":0.46},
{"t":16.025,"w":0.58,"r":0.52},{"t":16.075,"w":0.87,"r":0.76},{"t":16.125,"w":0.32,"r":0.28},{"t":16.175,"w":0.75,"r":0.66},{"t":16.225,"w":0.96,"r":0.90},{"t":16.275,"w":0.51,"r":0.40},{"t":16.325,"w":0.62,"r":0.58},{"t":16.375,"w":0.93,"r":0.84},{"t":16.425,"w":0.26,"r":0.20},{"t":16.475,"w":0.83,"r":0.72},{"t":16.525,"w":0.50,"r":0.46},{"t":16.575,"w":0.71,"r":0.62},{"t":16.625,"w":1.00,"r":0.94},{"t":16.675,"w":0.45,"r":0.34},{"t":16.725,"w":0.82,"r":0.78},{"t":16.775,"w":0.63,"r":0.54},{"t":16.825,"w":0.18,"r":0.12},{"t":16.875,"w":0.79,"r":0.68},{"t":16.925,"w":0.48,"r":0.44},{"t":16.975,"w":0.91,"r":0.82},
{"t":17.025,"w":0.50,"r":0.48},{"t":17.075,"w":0.74,"r":0.72},{"t":17.125,"w":0.32,"r":0.30},{"t":17.175,"w":0.62,"r":0.60},{"t":17.225,"w":0.88,"r":0.86},{"t":17.275,"w":0.24,"r":0.22},{"t":17.325,"w":0.56,"r":0.54},{"t":17.375,"w":0.42,"r":0.40},{"t":17.425,"w":0.80,"r":0.78},{"t":17.475,"w":0.18,"r":0.16},{"t":17.525,"w":0.68,"r":0.66},{"t":17.575,"w":0.36,"r":0.34},{"t":17.625,"w":0.52,"r":0.50},{"t":17.675,"w":0.10,"r":0.08},{"t":17.725,"w":0.46,"r":0.44},{"t":17.775,"w":0.64,"r":0.62},{"t":17.825,"w":0.28,"r":0.26},{"t":17.875,"w":0.40,"r":0.38},{"t":17.925,"w":0.58,"r":0.56},{"t":17.975,"w":0.14,"r":0.12},
{"t":18.025,"w":0.28,"r":0.26},{"t":18.075,"w":0.46,"r":0.44},{"t":18.125,"w":0.12,"r":0.10},{"t":18.175,"w":0.38,"r":0.36},{"t":18.225,"w":0.54,"r":0.52},{"t":18.275,"w":0.22,"r":0.20},{"t":18.325,"w":0.32,"r":0.30},{"t":18.375,"w":0.04,"r":0.02},{"t":18.425,"w":0.50,"r":0.48},{"t":18.475,"w":0.42,"r":0.40},{"t":18.525,"w":0.16,"r":0.14},{"t":18.575,"w":0.58,"r":0.56},{"t":18.625,"w":0.26,"r":0.24},{"t":18.675,"w":0.36,"r":0.34},{"t":18.725,"w":0.48,"r":0.46},{"t":18.775,"w":0.10,"r":0.08},{"t":18.825,"w":0.30,"r":0.28},{"t":18.875,"w":0.52,"r":0.50},{"t":18.925,"w":0.20,"r":0.18},{"t":18.975,"w":0.40,"r":0.38},
{"t":19.025,"w":0.32,"r":0.30},{"t":19.075,"w":0.52,"r":0.50},{"t":19.125,"w":0.22,"r":0.20},{"t":19.175,"w":0.42,"r":0.40},{"t":19.225,"w":0.08,"r":0.06},{"t":19.275,"w":0.48,"r":0.46},{"t":19.325,"w":0.28,"r":0.26},{"t":19.375,"w":0.58,"r":0.56},{"t":19.425,"w":0.36,"r":0.34},{"t":19.475,"w":0.16,"r":0.14},{"t":19.525,"w":0.46,"r":0.44},{"t":19.575,"w":0.26,"r":0.24},{"t":19.625,"w":0.38,"r":0.36},{"t":19.675,"w":0.54,"r":0.52},{"t":19.725,"w":0.12,"r":0.10},{"t":19.775,"w":0.44,"r":0.42},{"t":19.825,"w":0.32,"r":0.30},{"t":19.875,"w":0.60,"r":0.58},{"t":19.925,"w":0.24,"r":0.22},{"t":19.975,"w":0.40,"r":0.38},
{"t":20.025,"w":0.42,"r":0.40},{"t":20.075,"w":0.22,"r":0.20},{"t":20.125,"w":0.50,"r":0.48},{"t":20.175,"w":0.34,"r":0.32},{"t":20.225,"w":0.14,"r":0.12},{"t":20.275,"w":0.56,"r":0.54},{"t":20.325,"w":0.28,"r":0.26},{"t":20.375,"w":0.46,"r":0.44},{"t":20.425,"w":0.04,"r":0.02},{"t":20.475,"w":0.38,"r":0.36},{"t":20.525,"w":0.52,"r":0.50},{"t":20.575,"w":0.18,"r":0.16},{"t":20.625,"w":0.32,"r":0.30},{"t":20.675,"w":0.48,"r":0.46},{"t":20.725,"w":0.24,"r":0.22},{"t":20.775,"w":0.60,"r":0.58},{"t":20.825,"w":0.36,"r":0.34},{"t":20.875,"w":0.08,"r":0.06},{"t":20.925,"w":0.44,"r":0.42},{"t":20.975,"w":0.30,"r":0.28},
{"t":21.025,"w":0.28,"r":0.26},{"t":21.075,"w":0.48,"r":0.46},{"t":21.125,"w":0.36,"r":0.34},{"t":21.175,"w":0.12,"r":0.10},{"t":21.225,"w":0.52,"r":0.50},{"t":21.275,"w":0.24,"r":0.22},{"t":21.325,"w":0.42,"r":0.40},{"t":21.375,"w":0.02,"r":0.00},{"t":21.425,"w":0.32,"r":0.30},{"t":21.475,"w":0.14,"r":0.12},{"t":21.525,"w":0.04,"r":0.02},{"t":21.575,"w":0.26,"r":0.24},{"t":21.625,"w":0.02,"r":0.00},{"t":21.675,"w":0.38,"r":0.36},{"t":21.725,"w":0.08,"r":0.06},{"t":21.775,"w":0.22,"r":0.20},{"t":21.825,"w":0.02,"r":0.00},{"t":21.875,"w":0.32,"r":0.30},{"t":21.925,"w":0.06,"r":0.04},{"t":21.975,"w":0.12,"r":0.10},
{"t":22.025,"w":0.02,"r":0.00},{"t":22.075,"w":0.10,"r":0.08},{"t":22.125,"w":0.57,"r":0.55},{"t":22.175,"w":0.42,"r":0.40},{"t":22.225,"w":0.24,"r":0.22},{"t":22.275,"w":0.12,"r":0.10},{"t":22.325,"w":0.02,"r":0.00},{"t":22.375,"w":0.06,"r":0.04},{"t":22.425,"w":0.22,"r":0.20},{"t":22.475,"w":0.02,"r":0.00},{"t":22.525,"w":0.10,"r":0.08},{"t":22.575,"w":0.02,"r":0.00},{"t":22.625,"w":0.18,"r":0.16},{"t":22.675,"w":0.02,"r":0.00},{"t":22.725,"w":0.60,"r":0.58},{"t":22.775,"w":0.46,"r":0.44},{"t":22.825,"w":0.30,"r":0.28},{"t":22.875,"w":0.14,"r":0.12},{"t":22.925,"w":0.02,"r":0.00},{"t":22.975,"w":0.07,"r":0.05},
{"t":23.025,"w":0.70,"r":0.68},{"t":23.075,"w":0.76,"r":0.74},{"t":23.125,"w":0.62,"r":0.60},{"t":23.175,"w":0.82,"r":0.80},{"t":23.225,"w":0.72,"r":0.70},{"t":23.275,"w":0.86,"r":0.84},{"t":23.325,"w":0.78,"r":0.76},{"t":23.375,"w":0.68,"r":0.66},{"t":23.425,"w":0.80,"r":0.78},{"t":23.475,"w":0.74,"r":0.72},{"t":23.525,"w":0.84,"r":0.82},{"t":23.575,"w":0.66,"r":0.64},{"t":23.625,"w":0.78,"r":0.76},{"t":23.675,"w":0.72,"r":0.70},{"t":23.725,"w":0.86,"r":0.84},{"t":23.775,"w":0.76,"r":0.74},{"t":23.825,"w":0.80,"r":0.78},{"t":23.875,"w":0.70,"r":0.68},{"t":23.925,"w":0.82,"r":0.80},{"t":23.975,"w":0.78,"r":0.76}
]},
"layer": [
 {"mark": {"type": "circle", "size": 48, "opacity": 1, "clip": true},
  "encoding": {
   "x": {"field": "t", "type": "quantitative", "scale": {"domain": [0, 24], "nice": false, "zero": false},
     "axis": {"orient": "bottom", "values": [0,1,2,3,4,5,6,7,8,9,10,11,12,13,14,15,16,17,18,19,20,21,22,23,24], "labelExpr": "datum.value == 24 ? '00' : (datum.value < 10 ? '0' + datum.value : '' + datum.value)", "grid": true, "tickSize": -5, "labelPadding": 10, "title": null, "labelFlush": false, "labelOverlap": false}},
   "y": {"field": "w", "type": "quantitative", "scale": {"domain": [0, 4], "nice": false},
     "axis": {"orient": "left", "values": [0,0.5,1,1.5,2,2.5,3,3.5,4], "format": ".1f", "grid": true, "tickSize": -5, "labelPadding": 10, "title": "Wind speed (m/s)", "titlePadding": 4, "labelFlush": false, "labelOverlap": false}},
   "fill": {"field": "w", "type": "quantitative", "scale": {"domain": [0, 1.6], "range": ["#c8dcff", "#0050f0"], "clamp": true}, "legend": null}
  }},
 {"mark": {"type": "circle", "size": 48, "opacity": 1, "clip": true},
  "encoding": {
   "x": {"field": "t", "type": "quantitative", "axis": {"orient": "top", "values": [0,1,2,3,4,5,6,7,8,9,10,11,12,13,14,15,16,17,18,19,20,21,22,23,24], "labels": false, "grid": false, "tickSize": -5, "title": null}},
   "y": {"field": "r", "type": "quantitative", "axis": {"orient": "right", "values": [0,0.5,1,1.5,2,2.5,3,3.5,4], "labels": false, "grid": false, "tickSize": -5, "title": null}},
   "fill": {"field": "r", "type": "quantitative", "scale": {"domain": [0, 2], "range": ["#b4b4b4", "#000000"], "clamp": true}, "legend": null}
  }},
 {"data": {"values": [{"s": "Wind speed (0.753 m/s)"}, {"s": "Resultant wind speed (0.753 m/s)"}]},
  "mark": {"type": "point", "filled": true, "opacity": 0},
  "encoding": {
   "color": {"field": "s", "type": "nominal", "sort": null,
     "scale": {"domain": ["Wind speed (0.753 m/s)", "Resultant wind speed (0.753 m/s)"], "range": ["#0000ff", "#000000"]},
     "legend": {"orient": "none", "legendX": -15, "legendY": -45, "direction": "horizontal", "columns": 2, "title": null,
       "symbolType": "M -0.83,0 a 0.23,0.23 0 1,0 0.46,0 a 0.23,0.23 0 1,0 -0.46,0 Z M 0.42,0 a 0.28,0.28 0 1,0 0.56,0 a 0.28,0.28 0 1,0 -0.56,0 Z M 1.88,0 a 0.32,0.32 0 1,0 0.64,0 a 0.32,0.32 0 1,0 -0.64,0 Z",
       "symbolSize": 400, "symbolStrokeWidth": 0, "symbolOpacity": 1,
       "labelFont": "DejaVu Sans", "labelFontSize": 19.4, "labelColor": "black", "labelOffset": 35, "labelLimit": 500,
       "columnPadding": 40, "padding": 7, "strokeColor": "black", "fillColor": "white", "cornerRadius": 0}}
  }}
],
"resolve": {"scale": {"fill": "independent"}, "axis": {"x": "independent", "y": "independent"}}
}
